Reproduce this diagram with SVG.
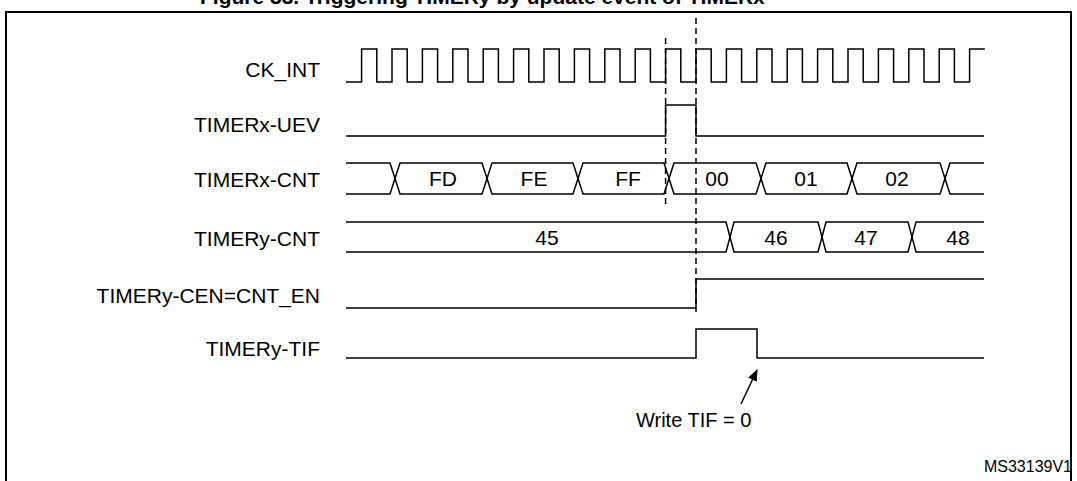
<svg xmlns="http://www.w3.org/2000/svg" width="1077" height="481" viewBox="0 0 1077 481">
<style>
.w{fill:none;stroke:#000;stroke-width:1.5}
.d{fill:none;stroke:#000;stroke-width:1.5;stroke-dasharray:6,4}
.l{font-family:"Liberation Sans",Arial,sans-serif;font-size:21px;fill:#000}
.r{text-anchor:end}
.m{text-anchor:middle}
</style>
<defs><marker id="ah" viewBox="0 0 10 10" refX="9" refY="5" markerWidth="8" markerHeight="8" orient="auto"><path d="M0,1 L10,5 L0,9 z" fill="#000"/></marker></defs>
<rect width="1077" height="481" fill="#fff"/>
<text x="200" y="4" font-family="Liberation Sans,Arial,sans-serif" font-weight="bold" font-size="21">Figure 33. Triggering TIMERy by update event of TIMERx</text>
<rect x="6" y="12" width="1065" height="475" fill="none" stroke="#000" stroke-width="2"/>
<g id="labels">
<text class="l r" x="320" y="77">CK_INT</text>
<text class="l r" x="320" y="132">TIMERx-UEV</text>
<text class="l r" x="320" y="187">TIMERx-CNT</text>
<text class="l r" x="320" y="246">TIMERy-CNT</text>
<text class="l r" x="320" y="303">TIMERy-CEN=CNT_EN</text>
<text class="l r" x="320" y="356">TIMERy-TIF</text>
</g>
<g id="ck_int"><path class="w" d="M346,82 H361.6 V49 H376.8 V82 H392 V49 H407.2 V82 H422.4 V49 H437.6 V82 H452.8 V49 H468 V82 H483.2 V49 H498.4 V82 H513.6 V49 H528.8 V82 H544 V49 H559.2 V82 H574.4 V49 H589.6 V82 H604.8 V49 H620 V82 H635.2 V49 H650.4 V82 H665.6 V49 H680.8 V82 H696 V49 H711.2 V82 H726.4 V49 H741.6 V82 H756.8 V49 H772 V82 H787.2 V49 H802.4 V82 H817.6 V49 H832.8 V82 H848 V49 H863.2 V82 H878.4 V49 H893.6 V82 H908.8 V49 H924 V82 H939.2 V49 H954.4 V82 H969.6 V49 H984.8"/></g>
<g id="uev"><path class="w" d="M346,136 H665.6 V105 H696 V136 H984"/></g>
<g id="cntx">
<path class="w" d="M346,163 H390 L400,194 H482 L492,163 H573 L583,194 H664 L674,163 H756 L766,194 H847 L857,163 H940 L950,194 H984"/>
<path class="w" d="M346,194 H390 L400,163 H482 L492,194 H573 L583,163 H664 L674,194 H756 L766,163 H847 L857,194 H940 L950,163 H984"/>
<text class="l m" x="443" y="186">FD</text>
<text class="l m" x="534" y="186">FE</text>
<text class="l m" x="628" y="186">FF</text>
<text class="l m" x="717" y="186">00</text>
<text class="l m" x="806" y="186">01</text>
<text class="l m" x="897" y="186">02</text>
</g>
<g id="cnty">
<path class="w" d="M346,222 H726 L734,252 H818 L826,222 H908 L916,252 H984"/>
<path class="w" d="M346,252 H726 L734,222 H818 L826,252 H908 L916,222 H984"/>
<text class="l m" x="547" y="245">45</text>
<text class="l m" x="776" y="245">46</text>
<text class="l m" x="866" y="245">47</text>
<text class="l m" x="958" y="245">48</text>
</g>
<g id="cen"><path class="w" d="M346,308 H696 V279 H984"/></g>
<g id="tif"><path class="w" d="M346,358 H696 V329 H757 V358 H984"/></g>
<g id="connectors">
<line class="d" x1="665.6" y1="38" x2="665.6" y2="206"/>
<line class="d" x1="696" y1="18" x2="696" y2="312"/>
<line x1="741" y1="404" x2="757" y2="370" stroke="#000" stroke-width="1.5" marker-end="url(#ah)"/>
</g>
<text class="l" x="636" y="427" style="font-size:20px">Write TIF = 0</text>
<text x="1072" y="472" text-anchor="end" font-family="Liberation Sans,Arial,sans-serif" font-size="16">MS33139V1</text>
</svg>
